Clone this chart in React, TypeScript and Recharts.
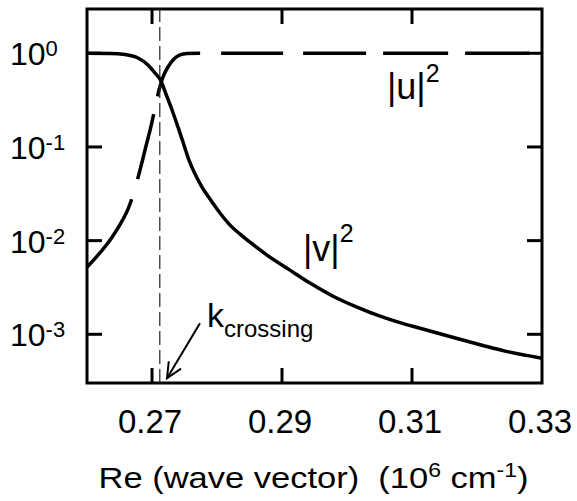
import React from 'react';
import { ComposedChart, Line, Area, XAxis, YAxis, ReferenceLine, ReferenceDot, ReferenceArea } from 'recharts';

const FONT = '"Liberation Sans", Arial, Helvetica, sans-serif';

// axes
const xDomain = [0.26, 0.33];
const yDomain = [0.000302, 2.97];
const xTicks = [0.27, 0.29, 0.31, 0.33];
const yTicks = [0.001, 0.01, 0.1, 1];
const xInnerTicks = [0.27, 0.29, 0.31];

// |u|^2 (dashed)
const uK = [0.26, 0.26169, 0.26385, 0.26538, 0.26631, 0.26723, 0.26815, 0.26908, 0.26985, 0.27046, 0.27108, 0.27169, 0.27246, 0.27338, 0.27431, 0.27538, 0.27738, 0.29, 0.31, 0.33];
const uVal = [0.00521, 0.007, 0.01089, 0.01614, 0.02168, 0.033, 0.0566, 0.1023, 0.1671, 0.2606, 0.4055, 0.5583, 0.714, 0.869, 0.9593, 0.9954, 1.0, 1.0, 1.0, 1.0];

// |v|^2 (solid)
const vK = [0.26, 0.26354, 0.26585, 0.26785, 0.26938, 0.27046, 0.27138, 0.27215, 0.27308, 0.274, 0.27477, 0.27569, 0.27662, 0.27769, 0.27892, 0.28046, 0.282, 0.28354, 0.28508, 0.28769, 0.29123, 0.29431, 0.29785, 0.30154, 0.30508, 0.30815, 0.31123, 0.31708, 0.32077, 0.32431, 0.32785, 0.33];
const vVal = [1.0, 0.997, 0.971, 0.891, 0.75, 0.616, 0.506, 0.367, 0.248, 0.163, 0.1128, 0.0724, 0.0513, 0.0373, 0.0278, 0.0197, 0.01465, 0.01173, 0.00963, 0.007, 0.00484, 0.00352, 0.00255, 0.00195, 0.00156, 0.00133, 0.00116, 0.000897, 0.000765, 0.000661, 0.000592, 0.000555];

// dash pattern of the |u|^2 curve (dash, gap, ...)
const uDashes = [82, 21, 67, 18, 69, 21, 62, 20, 63, 17, 65, 17, 64, 14, 100, 60];

// annotations
const kCrossing = 0.2712;
const arrowFrom = { x: 0.27738, y: 0.001315 };
const arrowTo = { x: 0.27231, y: 0.00034 };
const uLabelAt = { x: 0.30615, y: 0.325 };
const vLabelAt = { x: 0.29323, y: 0.00604 };

const uData = uK.map((k, i) => ({ x: k, y: uVal[i] }));
const vData = vK.map((k, i) => ({ x: k, y: vVal[i] }));

const BottomTick = (p: any) => (
  <text x={p.x - 2} y={p.y + 50} textAnchor="middle" fontFamily={FONT} fontSize={33} fill="#000">
    {Number(p.payload.value).toFixed(2)}
  </text>
);

const LeftTick = (p: any) => {
  const e = Math.round(Math.log10(p.payload.value));
  return (
    <text x={p.x - 77} y={p.y + 12} textAnchor="start" fontFamily={FONT} fontSize={32} fill="#000">
      10<tspan dy={-9} fontSize={22}>{e}</tspan>
    </text>
  );
};

const XTickMarks = (p: any) => {
  const top = Math.min(p.y1, p.y2);
  const bot = Math.max(p.y1, p.y2);
  return (
    <g>
      <line x1={p.x1} y1={bot} x2={p.x1} y2={bot - 15} stroke="#000" strokeWidth={3} />
      <line x1={p.x1} y1={top} x2={p.x1} y2={top + 15} stroke="#000" strokeWidth={3} />
    </g>
  );
};

const YTickMarks = (p: any) => {
  const l = Math.min(p.x1, p.x2);
  const r = Math.max(p.x1, p.x2);
  return (
    <g>
      <line x1={l} y1={p.y1} x2={l + 15} y2={p.y1} stroke="#000" strokeWidth={3} />
      <line x1={r} y1={p.y1} x2={r - 15} y2={p.y1} stroke="#000" strokeWidth={3} />
    </g>
  );
};

const XTitle = (p: any) => {
  const vb = p.viewBox || { x: 87, y: 383, width: 455, height: 118 };
  const cx = vb.x + vb.width / 2 - 1;
  const cy = vb.y + 105;
  return (
    <g transform={`translate(${cx},${cy}) scale(1.15,1)`}>
      <text x={0} y={0} textAnchor="middle" fontFamily={FONT} fontSize={30} fill="#000" xmlSpace="preserve" style={{ whiteSpace: 'pre' }}>
        <tspan>Re (wave vector)  (10</tspan>
        <tspan dy={-11} fontSize={20}>6</tspan>
        <tspan dy={11}> cm</tspan>
        <tspan dy={-11} fontSize={20}>-1</tspan>
        <tspan dy={11}>)</tspan>
      </text>
    </g>
  );
};

const Arrow = (p: any) => {
  const { x1, y1, x2, y2 } = p;
  const dx = x1 - x2;
  const dy = y1 - y2;
  const len = Math.sqrt(dx * dx + dy * dy) || 1;
  const ux = dx / len;
  const uy = dy / len;
  const a = (25 * Math.PI) / 180;
  const L = 17;
  const r1 = { x: ux * Math.cos(a) - uy * Math.sin(a), y: ux * Math.sin(a) + uy * Math.cos(a) };
  const r2 = { x: ux * Math.cos(-a) - uy * Math.sin(-a), y: ux * Math.sin(-a) + uy * Math.cos(-a) };
  return (
    <g>
      <line x1={x1} y1={y1} x2={x2} y2={y2} stroke="#000" strokeWidth={2} />
      <polyline
        points={`${x2 + r1.x * L},${y2 + r1.y * L} ${x2},${y2} ${x2 + r2.x * L},${y2 + r2.y * L}`}
        fill="none"
        stroke="#000"
        strokeWidth={2}
      />
      <text x={x1 + 7} y={y1 + 4} fontFamily={FONT} fontSize={34} fill="#000">
        k<tspan dy={10} fontSize={24}>crossing</tspan>
      </text>
    </g>
  );
};

const SquaredLabel = (name: string, supDy: number) => (p: any) => (
  <text x={p.cx} y={p.cy} fontFamily={FONT} fontSize={36} fill="#000">
    {name}
    <tspan dy={supDy} fontSize={25}>2</tspan>
  </text>
);

export default function App() {
  return (
    <div style={{ position: 'absolute', left: 0, top: 0, width: 577, height: 501, background: '#fff' }}>
      <ComposedChart width={577} height={501} margin={{ top: 9, right: 35, bottom: 0, left: 0 }}>
        <XAxis
          dataKey="x"
          type="number"
          domain={xDomain}
          ticks={xTicks}
          allowDataOverflow
          height={118}
          tickSize={0}
          tickMargin={0}
          tickLine={false}
          axisLine={false}
          tick={<BottomTick />}
          label={XTitle}
        />
        <YAxis
          type="number"
          scale="log"
          domain={yDomain}
          ticks={yTicks}
          allowDataOverflow
          width={87}
          tickSize={0}
          tickMargin={0}
          tickLine={false}
          axisLine={false}
          tick={<LeftTick />}
        />
        <ReferenceLine x={kCrossing} stroke="#222" strokeWidth={1.2} strokeDasharray="14 5" />
        <Line
          data={vData}
          dataKey="y"
          type="monotone"
          stroke="#000"
          strokeWidth={3.5}
          dot={false}
          activeDot={false}
          isAnimationActive={false}
        />
        <Area
          data={uData}
          dataKey="y"
          type="monotone"
          stroke="#000"
          strokeWidth={3.5}
          strokeDasharray={uDashes.join(' ')}
          fill="none"
          fillOpacity={0}
          dot={false}
          activeDot={false}
          isAnimationActive={false}
        />
        <ReferenceArea
          x1={xDomain[0]}
          x2={xDomain[1]}
          y1={yDomain[0]}
          y2={yDomain[1]}
          fill="none"
          fillOpacity={0}
          stroke="#000"
          strokeWidth={3}
          ifOverflow="visible"
        />
        {xInnerTicks.map((t) => (
          <ReferenceLine key={'xt' + t} x={t} shape={XTickMarks} />
        ))}
        {yTicks.map((t) => (
          <ReferenceLine key={'yt' + t} y={t} shape={YTickMarks} />
        ))}
        <ReferenceLine segment={[arrowFrom, arrowTo]} shape={Arrow} ifOverflow="visible" />
        <ReferenceDot x={uLabelAt.x} y={uLabelAt.y} r={0} shape={SquaredLabel('|u|', -17)} />
        <ReferenceDot x={vLabelAt.x} y={vLabelAt.y} r={0} shape={SquaredLabel('|v|', -19)} />
      </ComposedChart>
    </div>
  );
}
